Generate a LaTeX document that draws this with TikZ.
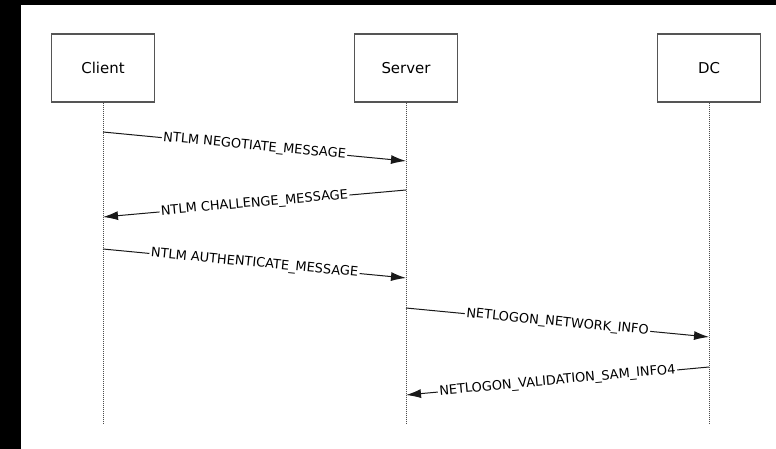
\documentclass[tikz,border=0pt]{standalone}
\usepackage{fontspec}
\setmainfont{DejaVu Sans}
\usepackage{xcolor}
\usepackage{tikz}
\usetikzlibrary{arrows.meta, positioning}
\definecolor{boxgray}{HTML}{555555}

\begin{document}
\begin{tikzpicture}[x=1bp, y=-1bp,
  party/.style={draw=boxgray, line width=1.1bp, minimum width=103bp, minimum height=68bp,
    inner sep=0pt, font=\fontsize{15}{17}\selectfont, text=black},
  lifeline/.style={draw=black!70, line width=0.8bp, dash pattern=on 1bp off 1bp},
  msg/.style={draw=black!90, line width=1bp, -{Latex[length=15bp, width=9bp]}},
  lbl/.style={sloped, fill=white, inner sep=1.5bp, text=black,
    font=\fontsize{13}{14}\selectfont}]
  \useasboundingbox (0,0) rectangle (776,449);
  % Frame of the screenshot
  \fill[black] (0,0) rectangle (776,449);
  \fill[white] (21,5) rectangle (776,449);

  % Parties
  \node[party] (client) at (103,68) {Client};
  \node[party] (server) at (406,68) {Server};
  \node[party] (dc) at (709,68) {DC};

  % Lifelines
  \coordinate (clientend) at (103,423);
  \coordinate (serverend) at (406,423);
  \coordinate (dcend) at (709,423);
  \draw[lifeline] (client.south) -- (clientend);
  \draw[lifeline] (server.south) -- (serverend);
  \draw[lifeline] (dc.south) -- (dcend);

  % Message end points on the lifelines
  \coordinate (c1) at (103,132);  \coordinate (s1) at (406,161);
  \coordinate (s2) at (406,190);  \coordinate (c2) at (103,217);
  \coordinate (c3) at (103,249);  \coordinate (s3) at (406,278);
  \coordinate (s4) at (406,308);  \coordinate (d4) at (709,337);
  \coordinate (d5) at (709,367);  \coordinate (s5) at (406,395);

  % Messages
  \draw[msg] (c1) -- node[lbl] {NTLM NEGOTIATE\_MESSAGE} (s1);
  \draw[msg] (s2) -- node[lbl] {NTLM CHALLENGE\_MESSAGE} (c2);
  \draw[msg] (c3) -- node[lbl] {NTLM AUTHENTICATE\_MESSAGE} (s3);
  \draw[msg] (s4) -- node[lbl] {NETLOGON\_NETWORK\_INFO} (d4);
  \draw[msg] (d5) -- node[lbl] {NETLOGON\_VALIDATION\_SAM\_INFO4} (s5);
\end{tikzpicture}
\end{document}
